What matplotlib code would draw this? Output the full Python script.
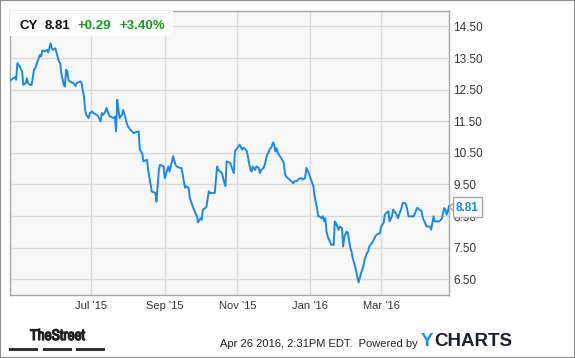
import numpy as np
import pandas as pd
import matplotlib
matplotlib.use("Agg")
import matplotlib.pyplot as plt
import matplotlib.patheffects as pe
from matplotlib.patches import Rectangle, FancyBboxPatch
from matplotlib import font_manager

plt.rcParams["font.family"] = ["Liberation Sans", "DejaVu Sans"]

# ------------------------------------------------------------
# data
# ------------------------------------------------------------
start = pd.Timestamp("2015-04-24")
days = [0, 4, 5, 6, 8, 10, 11, 13, 14, 15, 17, 18, 20, 21, 22, 25, 26, 27, 29, 31,
        32, 34, 35, 36, 38, 39, 41, 42, 43, 45, 46, 47, 48, 49, 50, 53, 55, 56, 59, 60,
        62, 63, 64, 66, 67, 69, 70, 73, 74, 76, 77, 78, 80, 81, 83, 84, 87, 88, 89, 90,
        91, 92, 94, 95, 97, 98, 99, 101, 104, 105, 108, 109, 111, 112, 115, 116, 119, 122, 123, 125,
        126, 129, 130, 132, 133, 134, 137, 139, 140, 143, 144, 147, 148, 150, 151, 153, 154, 157, 158, 160,
        161, 162, 164, 165, 167, 168, 171, 172, 174, 175, 178, 179, 181, 182, 185, 188, 189, 190, 193, 195,
        196, 197, 199, 202, 203, 204, 206, 207, 209, 210, 211, 213, 214, 216, 217, 218, 220, 221, 222, 223,
        224, 225, 228, 230, 231, 232, 235, 238, 239, 241, 242, 244, 245, 246, 248, 249, 251, 252, 253, 255,
        256, 258, 259, 260, 262, 263, 264, 265, 266, 267, 270, 272, 273, 274, 276, 277, 279, 280, 281, 283,
        284, 286, 287, 288, 290, 291, 292, 293, 294, 295, 297, 298, 300, 301, 302, 304, 305, 307, 308, 311,
        312, 314, 315, 316, 318, 319, 321, 322, 323, 325, 326, 328, 329, 330, 332, 333, 335, 336, 339, 340,
        342, 343, 344, 346, 347, 349, 350, 353, 354, 356, 357, 360, 361, 363, 364, 365, 366, 367, 368, 369]
price = [12.79, 12.90, 12.81, 13.34, 13.23, 13.08, 12.65, 12.71, 12.86, 12.71, 12.65, 12.65, 13.13, 13.18, 13.29, 13.60, 13.55, 13.74, 13.71, 13.76,
         13.68, 13.97, 13.81, 13.76, 13.81, 13.66, 13.39, 13.34, 13.02, 12.65, 12.60, 13.13, 13.08, 12.81, 12.76, 12.71, 12.62, 12.71, 12.76, 12.71,
         12.28, 11.86, 11.70, 11.60, 11.76, 11.81, 11.76, 11.70, 11.65, 11.49, 11.76, 11.70, 11.81, 11.92, 11.70, 11.65, 11.60, 11.65, 11.18, 12.18,
         11.86, 11.60, 11.70, 11.86, 11.60, 11.44, 11.34, 11.23, 11.12, 11.15, 11.18, 10.60, 10.49, 10.23, 10.28, 9.96, 9.28, 9.23, 8.96, 9.96,
         10.12, 10.07, 9.70, 9.96, 10.07, 9.91, 10.39, 10.12, 10.07, 10.02, 10.02, 9.39, 9.44, 9.39, 9.07, 8.86, 8.75, 8.49, 8.30, 8.43,
         8.38, 8.70, 8.75, 8.80, 9.28, 9.23, 9.23, 9.23, 10.07, 9.96, 9.86, 9.70, 9.44, 10.23, 10.18, 9.86, 10.55, 10.60, 10.76, 10.60,
         10.65, 10.65, 10.55, 9.96, 9.91, 10.07, 9.96, 10.07, 10.02, 9.86, 9.96, 10.02, 10.12, 10.44, 10.49, 10.60, 10.70, 10.83, 10.76, 10.55,
         10.65, 10.49, 10.33, 10.18, 9.86, 9.75, 9.65, 9.54, 9.60, 9.60, 9.65, 9.70, 9.70, 9.65, 9.70, 10.02, 9.86, 9.75, 9.65, 9.44,
         9.12, 8.75, 8.49, 8.49, 8.43, 8.49, 8.33, 8.43, 8.01, 7.85, 7.59, 7.59, 8.33, 8.28, 8.07, 8.17, 8.12, 7.54, 7.85, 8.01,
         7.96, 7.49, 7.38, 7.17, 6.91, 6.75, 6.54, 6.40, 6.54, 6.69, 6.91, 7.12, 7.33, 7.38, 7.54, 7.64, 7.70, 7.85, 7.91, 7.96,
         8.17, 8.28, 8.54, 8.59, 8.65, 8.33, 8.49, 8.70, 8.65, 8.54, 8.43, 8.65, 8.75, 8.91, 8.91, 8.86, 8.49, 8.49, 8.49, 8.54,
         8.75, 8.75, 8.70, 8.65, 8.43, 8.28, 8.17, 8.17, 8.07, 8.49, 8.33, 8.33, 8.33, 8.43, 8.59, 8.75, 8.70, 8.54, 8.65, 8.81]

ticker = "CY"
last = "8.81"
change = "+0.29"
change_pct = "+3.40%"
tick_dates = ["2015-07-01", "2015-09-01", "2015-11-01", "2016-01-01", "2016-03-01"]
tick_labels = ["Jul '15", "Sep '15", "Nov '15", "Jan '16", "Mar '16"]
y_ticks = [6.5, 7.5, 8.5, 9.5, 10.5, 11.5, 12.5, 13.5, 14.5]
footer = "Apr 26 2016, 2:31PM EDT.  Powered by"

dates = start + pd.to_timedelta(days, unit="D")

# ------------------------------------------------------------
# figure
# ------------------------------------------------------------
W, H = 575, 358
fig = plt.figure(figsize=(W / 100, H / 100), dpi=100)


def fx(px):
    return px / W


def fy(py):
    return 1 - py / H


ax = fig.add_axes([fx(9.5), fy(295), fx(449 - 9.5), (295 - 10.7) / H])
ax.set_facecolor("#f7f7f7")

ax.plot(dates, price, color="#1e88e5", lw=1.4, solid_joinstyle="round", zorder=3)

ax.set_ylim(6.0, 15.0)
ax.set_xlim(dates[0] - pd.Timedelta(days=0.6), dates[-1])
ax.set_yticks(y_ticks)
ax.set_yticklabels([f"{v:.2f}" for v in y_ticks])
ax.set_xticks(pd.to_datetime(tick_dates))
ax.set_xticklabels(tick_labels)
ax.yaxis.tick_right()
ax.tick_params(axis="both", length=0, labelsize=8, colors="#333333")
ax.tick_params(axis="y", pad=3.0, labelsize=8.5)
ax.tick_params(axis="x", pad=4.5)
ax.grid(True, color="#d9d9d9", lw=1.0)
ax.set_axisbelow(True)
for s in ax.spines.values():
    s.set_color("#a8a8a8")
    s.set_linewidth(1.0)

# header box with quote
fig.patches.append(Rectangle((fx(10), fy(36)), fx(163), (36 - 11) / H,
                             transform=fig.transFigure, facecolor="#fcfcfc",
                             edgecolor="none", zorder=5))
hy = fy(29)
fig.text(fx(20), hy, ticker, fontsize=9.5, fontweight="bold", color="#111111", va="baseline", zorder=6)
fig.text(fx(45), hy, last, fontsize=9.5, fontweight="bold", color="#111111", va="baseline", zorder=6)
fig.text(fx(78), hy, change, fontsize=9.5, fontweight="bold", color="#1c9a1c", va="baseline", zorder=6)
fig.text(fx(119), hy, change_pct, fontsize=9.5, fontweight="bold", color="#1c9a1c", va="baseline", zorder=6)

# last price label on the right axis (covers the 8.50 tick as in the original)
fig.patches.append(FancyBboxPatch((fx(453), fy(217)), fx(29), 20 / H, boxstyle="square,pad=0",
                                  transform=fig.transFigure, facecolor="white",
                                  edgecolor="#a8a8a8", lw=1.0, zorder=5))
fig.patches.append(plt.Polygon([[fx(449.5), fy(207)], [fx(453.5), fy(203)], [fx(453.5), fy(211)]],
                               closed=True, transform=fig.transFigure, facecolor="white",
                               edgecolor="#a8a8a8", lw=1.0, zorder=5))
fig.text(fx(467.5), fy(207.5), last, fontsize=8.5, fontweight="bold", color="#1e88e5",
         ha="center", va="center", zorder=6)

# footer
narrow = [f.name for f in font_manager.fontManager.ttflist if "Narrow" in f.name]
logo_family = [narrow[0]] if narrow else ["Liberation Sans"]
fig.text(fx(57.5), fy(336), "TheStreet", fontsize=11 if narrow else 9.5, fontweight="bold",
         color="#222222", ha="center", va="center", family=logo_family,
         path_effects=[pe.withStroke(linewidth=0.9, foreground="#222222")])
for x0, x1 in [(9, 38), (43, 72), (76, 105)]:
    fig.patches.append(Rectangle((fx(x0), fy(350.5)), fx(x1 - x0), 3 / H,
                                 transform=fig.transFigure, facecolor="#333333", edgecolor="none"))
fig.text(fx(418), fy(344), footer, fontsize=8, color="#222222", ha="right", va="center")
fig.text(fx(421), fy(342), "Y", fontsize=13.5, fontweight="bold", color="#1e90e0", va="center")
fig.text(fx(434), fy(342), "CHARTS", fontsize=13.5, fontweight="bold", color="#1a1f2b", va="center")

# outer frame
fig.patches.append(Rectangle((0, 0), 1, 1, transform=fig.transFigure, facecolor="none",
                             edgecolor="#8c8c8c", lw=1.5))

fig.savefig("out.png", dpi=100)
